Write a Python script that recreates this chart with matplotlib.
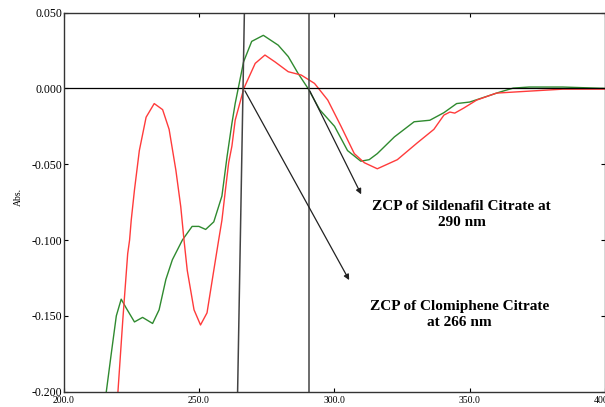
import matplotlib
matplotlib.use('Agg')
import matplotlib.pyplot as plt

# wavelength (nm) / absorbance
green_nm = [215.8, 217.7, 219.5, 221.3, 223.2, 226.2, 229.2, 232.9, 235.3, 237.8,
            240.2, 243.9, 247.5, 250.0, 252.5, 255.5, 258.5, 260.4, 262.2, 263.4,
            266.5, 269.5, 273.8, 279.3, 283.0, 286.6, 290.3, 294.6, 300.1, 304.9,
            309.8, 312.9, 315.9, 322.2, 329.5, 335.3, 340.5, 345.2, 350.0, 355.1,
            361.0, 366.1, 372.0, 384.4, 400.0]
green_abs = [-0.200, -0.174, -0.150, -0.139, -0.145, -0.154, -0.151, -0.155, -0.146, -0.126,
             -0.113, -0.100, -0.091, -0.091, -0.093, -0.088, -0.071, -0.045, -0.023, -0.010,
             0.0175, 0.031, 0.035, 0.0285, 0.021, 0.010, 0.000, -0.014, -0.025, -0.041,
             -0.048, -0.047, -0.043, -0.032, -0.022, -0.021, -0.016, -0.010, -0.009, -0.006,
             -0.0025, 0.0002, 0.0009, 0.0009, 0.000]

red_nm = [220.1, 221.9, 223.7, 224.4, 225.0, 226.2, 228.0, 230.5, 233.5, 236.6,
          239.0, 241.5, 243.3, 244.5, 245.7, 248.2, 250.6, 253.0, 255.5, 257.3,
          258.5, 259.8, 261.0, 262.2, 263.4, 266.6, 270.8, 274.4, 278.1, 283.0,
          287.8, 292.7, 297.6, 302.5, 307.4, 311.1, 315.9, 323.3, 330.6, 336.8,
          340.5, 342.7, 344.5, 347.8, 352.6, 359.9, 372.0, 384.4, 400.0]
red_abs = [-0.200, -0.1525, -0.109, -0.100, -0.087, -0.067, -0.041, -0.019, -0.010, -0.014,
           -0.027, -0.054, -0.078, -0.100, -0.120, -0.146, -0.156, -0.148, -0.120, -0.100,
           -0.087, -0.067, -0.049, -0.038, -0.021, 0.000, 0.0165, 0.022, 0.0175, 0.011,
           0.0088, 0.0033, -0.0077, -0.025, -0.043, -0.049, -0.053, -0.047, -0.036, -0.027,
           -0.0176, -0.0156, -0.0163, -0.013, -0.0077, -0.0031, -0.0018, -0.0005, -0.0005]

x_ticks = [200, 250, 300, 350, 400]
y_ticks = [0.05, 0.0, -0.05, -0.1, -0.15, -0.2]

serif = ['Liberation Serif', 'DejaVu Serif']

fig = plt.figure(figsize=(6.05, 4.07), dpi=100)
ax = fig.add_axes([0.105, 0.0376, 0.895, 0.9315])

ax.plot(green_nm, green_abs, color='#2f8a2f', lw=1.0)
ax.plot(red_nm, red_abs, color='#ff3b3b', lw=1.0)

# zero line and the two zero-crossing markers
ax.axhline(0, color='black', lw=0.9)
ax.plot([266.8, 264.3], [0.05, -0.2], color='#444444', lw=1.1)
ax.plot([290.5, 290.5], [0.05, -0.2], color='#444444', lw=1.1)

# arrows to the labels
ax.annotate('', xy=(306.0, -0.128), xytext=(266.5, 0.0),
            arrowprops=dict(arrowstyle='-|>', color='#222222', lw=0.9, mutation_scale=8))
ax.annotate('', xy=(310.4, -0.0715), xytext=(290.5, 0.0),
            arrowprops=dict(arrowstyle='-|>', color='#222222', lw=0.9, mutation_scale=8))

ax.text(347.1, -0.0834, 'ZCP of Sildenafil Citrate at\n290 nm', ha='center', va='center',
        family=serif, fontweight='bold', fontsize=11, linespacing=1.3)
ax.text(346.2, -0.149, 'ZCP of Clomiphene Citrate\nat 266 nm', ha='center', va='center',
        family=serif, fontweight='bold', fontsize=11, linespacing=1.3)

ax.set_xlim(200, 400)
ax.set_ylim(-0.2, 0.05)
ax.set_xticks(x_ticks)
ax.set_xticklabels(['%.1f' % v for v in x_ticks], family=serif, fontsize=7)
ax.set_yticks(y_ticks)
ax.set_yticklabels(['%.3f' % v for v in y_ticks], family=serif, fontsize=8.5)
ax.tick_params(direction='in', length=3, width=0.8, top=True, right=True)
ax.tick_params(axis='x', pad=3)
ax.tick_params(axis='y', pad=1)
fig.text(18 / 605, 1 - 197 / 407, 'Abs.', family=serif, fontsize=7,
         rotation=90, ha='center', va='center')

for s in ax.spines.values():
    s.set_color('#333333')
    s.set_linewidth(1.0)

fig.savefig('out.png', dpi=100)
